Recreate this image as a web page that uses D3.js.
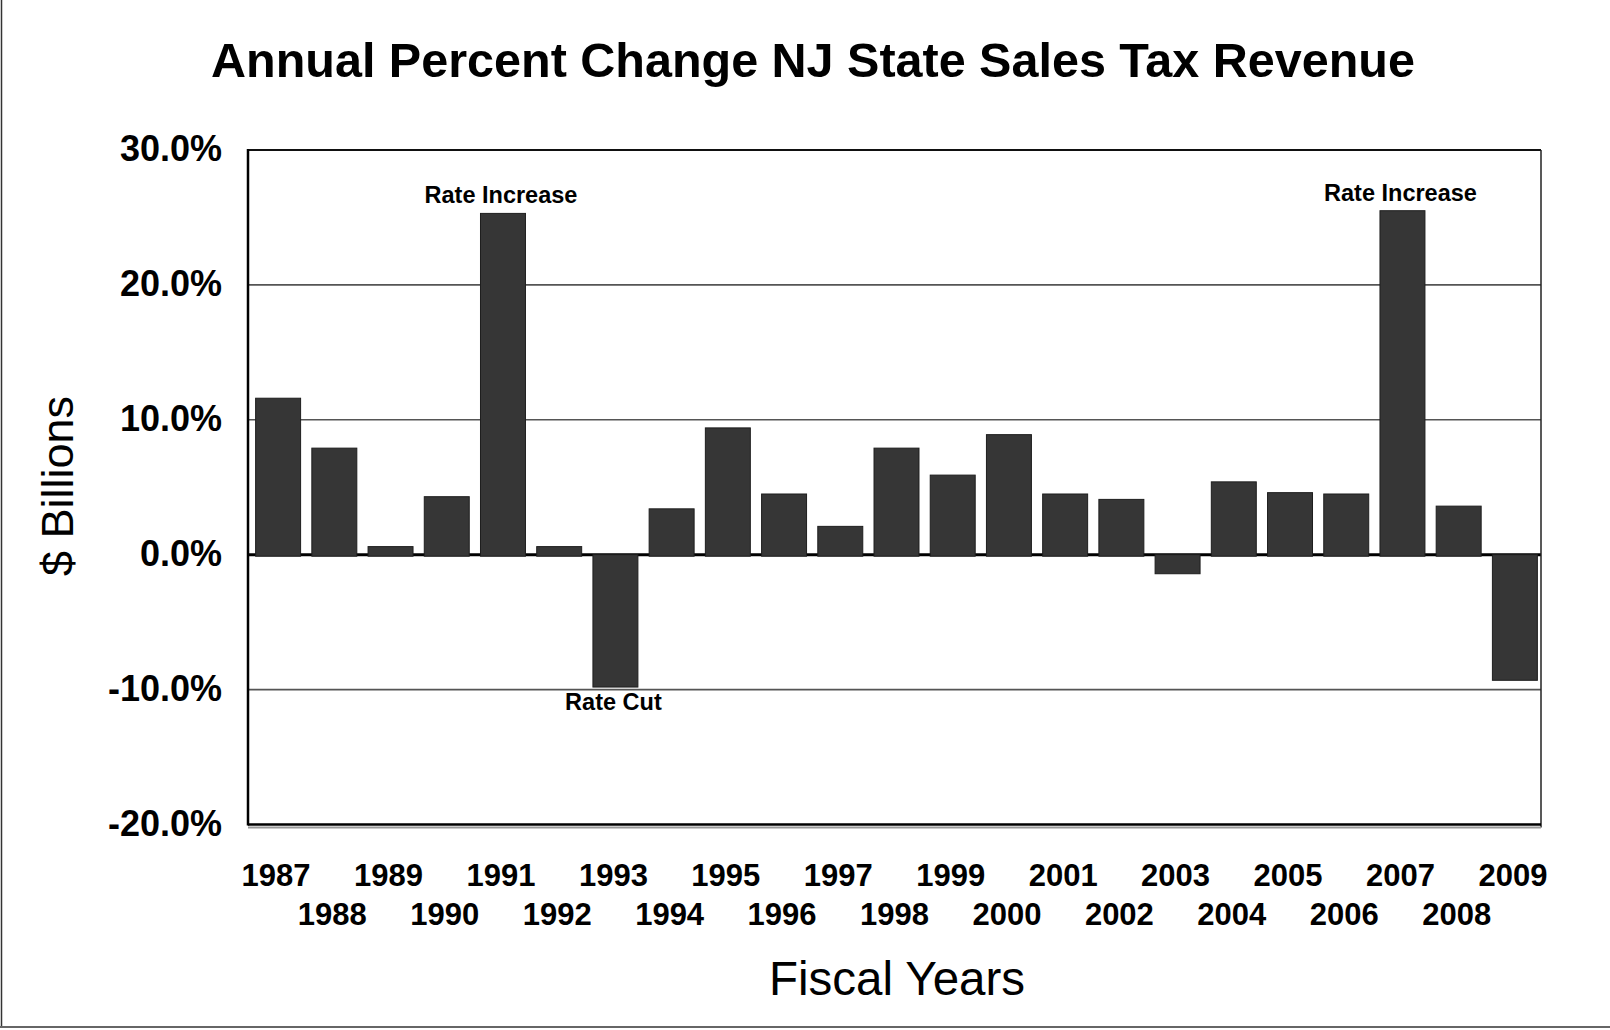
<!DOCTYPE html>
<html>
<head>
<meta charset="utf-8">
<script src="https://cdn.jsdelivr.net/npm/d3@7"></script>
<style>
  html, body { margin: 0; padding: 0; background: #fff; }
  svg { display: block; font-family: "Liberation Sans", Arial, sans-serif; }
</style>
</head>
<body>
<svg id="chart" width="1610" height="1030"></svg>
<script>
// Fiscal years and annual percent change in NJ sales tax revenue
const years = ["1987","1988","1989","1990","1991","1992","1993","1994","1995","1996","1997","1998",
               "1999","2000","2001","2002","2003","2004","2005","2006","2007","2008","2009"];
const pctChange = [11.6, 7.9, 0.6, 4.3, 25.3, 0.6, -9.7, 3.4, 9.4, 4.5, 2.1, 7.9,
                   5.9, 8.9, 4.5, 4.1, -1.3, 5.4, 4.6, 4.5, 25.5, 3.6, -9.2];
const yTicks = [30, 20, 10, 0, -10, -20];
const notes = [
  { year: "1991", text: "Rate Increase" },
  { year: "1993", text: "Rate Cut" },
  { year: "2007", text: "Rate Increase" }
];

const svg = d3.select("#chart");
const W = 1610, H = 1030;
const plot = { left: 248, right: 1541, top: 150, bottom: 824.5 };

const x = d3.scaleBand().domain(years).range([plot.left, plot.right]).paddingInner(0).paddingOuter(0);
const y = d3.scaleLinear().domain([-20, 30]).range([plot.bottom, plot.top]);
const valueOf = new Map(years.map((yr, i) => [yr, pctChange[i]]));
const barW = x.bandwidth() * 0.8;
const barShift = 2;

// outer frame lines
svg.append("line").attr("x1", 1.5).attr("x2", 1.5).attr("y1", 0).attr("y2", H - 3)
  .attr("stroke", "#333").attr("stroke-width", 1.5);
svg.append("line").attr("x1", 0).attr("x2", W).attr("y1", H - 3).attr("y2", H - 3)
  .attr("stroke", "#666").attr("stroke-width", 2);

// title
svg.append("text").attr("x", 813).attr("y", 77).attr("text-anchor", "middle")
  .attr("font-size", 48.5).attr("font-weight", "bold").attr("fill", "#000")
  .text("Annual Percent Change NJ State Sales Tax Revenue");

// horizontal gridlines
svg.append("g").selectAll("line").data(yTicks.filter(t => t !== 0 && t !== 30 && t !== -20))
  .join("line")
  .attr("x1", plot.left).attr("x2", plot.right)
  .attr("y1", d => y(d)).attr("y2", d => y(d))
  .attr("stroke", "#555").attr("stroke-width", 1.6);

// zero line
svg.append("line").attr("x1", plot.left).attr("x2", plot.right)
  .attr("y1", y(0)).attr("y2", y(0)).attr("stroke", "#000").attr("stroke-width", 3);

// bars
svg.append("g").selectAll("rect").data(years).join("rect")
  .attr("x", d => x(d) + (x.bandwidth() - barW) / 2 + barShift)
  .attr("width", barW)
  .attr("y", (d, i) => Math.min(y(pctChange[i]), y(0)))
  .attr("height", (d, i) => Math.abs(y(pctChange[i]) - y(0)) + 1.5)
  .attr("fill", "#363636")
  .attr("stroke", "#1e1e1e").attr("stroke-width", 1);

// plot frame
svg.append("line").attr("x1", plot.left).attr("x2", plot.right).attr("y1", plot.top).attr("y2", plot.top)
  .attr("stroke", "#111").attr("stroke-width", 2);
svg.append("line").attr("x1", plot.right).attr("x2", plot.right).attr("y1", plot.top).attr("y2", plot.bottom + 3)
  .attr("stroke", "#222").attr("stroke-width", 1.5);
svg.append("line").attr("x1", plot.left).attr("x2", plot.right).attr("y1", plot.bottom + 3).attr("y2", plot.bottom + 3)
  .attr("stroke", "#999").attr("stroke-width", 2);
svg.append("line").attr("x1", plot.left).attr("x2", plot.right).attr("y1", plot.bottom).attr("y2", plot.bottom)
  .attr("stroke", "#000").attr("stroke-width", 2.5);
svg.append("line").attr("x1", plot.left).attr("x2", plot.left).attr("y1", plot.top - 1).attr("y2", plot.bottom + 1)
  .attr("stroke", "#000").attr("stroke-width", 2.5);

// y axis labels
const yAxis = d3.axisLeft(y).tickValues(yTicks).tickSize(0).tickPadding(26)
  .tickFormat(d => d.toFixed(1) + "%");
const gy = svg.append("g").attr("transform", `translate(${plot.left},0)`).call(yAxis);
gy.select(".domain").remove();
gy.selectAll("text").attr("font-size", 36).attr("font-weight", "bold").attr("fill", "#000")
  .attr("font-family", "'Liberation Sans', Arial, sans-serif").attr("dy", "0.3em");

// x axis labels, alternating rows
const xAxis = d3.axisBottom(x).tickSize(0).tickPadding(0);
const gx = svg.append("g").attr("transform", `translate(0,${plot.bottom})`).call(xAxis);
gx.select(".domain").remove();
gx.selectAll("text").attr("font-size", 31).attr("font-weight", "bold").attr("fill", "#000")
  .attr("font-family", "'Liberation Sans', Arial, sans-serif")
  .attr("dy", null)
  .attr("y", (d, i) => i % 2 === 0 ? 886 - plot.bottom : 925 - plot.bottom);

// annotations
svg.append("g").selectAll("text").data(notes).join("text")
  .attr("x", d => x(d.year) + x.bandwidth() / 2)
  .attr("y", d => valueOf.get(d.year) >= 0 ? y(valueOf.get(d.year)) - 10 : y(valueOf.get(d.year)) + 24)
  .attr("text-anchor", "middle").attr("font-size", 23.5).attr("font-weight", "bold").attr("fill", "#000")
  .text(d => d.text);

// axis titles
svg.append("text").attr("transform", "translate(73,486) rotate(-90)").attr("text-anchor", "middle")
  .attr("font-size", 45).attr("fill", "#000").text("$ Billions");
svg.append("text").attr("x", 897).attr("y", 995).attr("text-anchor", "middle")
  .attr("font-size", 47.5).attr("fill", "#000").text("Fiscal Years");
</script>
</body>
</html>
